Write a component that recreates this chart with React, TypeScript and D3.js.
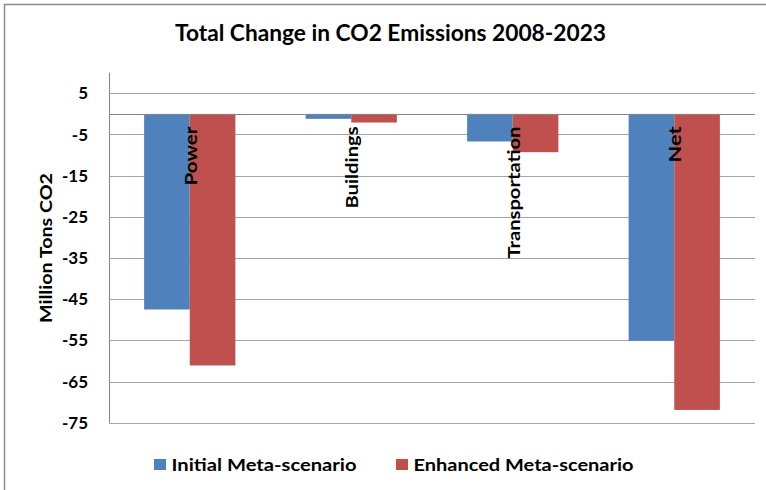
import React from "react";
import * as d3 from "d3";

const categories = ["Power", "Buildings", "Transportation", "Net"];
const seriesNames = ["Initial Meta-scenario", "Enhanced Meta-scenario"];
const initialValues = [-47.5, -1.2, -6.7, -55.1];
const enhancedValues = [-61.1, -2.1, -9.3, -71.9];
const yTicks = [5, -5, -15, -25, -35, -45, -55, -65, -75];
const seriesColors = ["#4F81BD", "#C0504D"];

const W = 766;
const H = 490;
const FONT = "Lato, 'Open Sans', sans-serif";

export default function App() {
  const plotLeft = 109;
  const plotRight = 755;
  const y = d3.scaleLinear().domain([-75, 5]).range([422.7, 93.3]);
  const x0 = d3.scaleBand<string>().domain(categories).range([plotLeft, plotRight]);
  const x1 = d3
    .scaleBand<string>()
    .domain(seriesNames)
    .range([0, x0.bandwidth()])
    .paddingInner(0)
    .paddingOuter(0.77);
  const series = [initialValues, enhancedValues];

  const labelWidths: Record<string, number> = {
    Power: 59,
    Buildings: 82,
    Transportation: 132,
    Net: 36,
  };

  return (
    <svg
      width={W}
      height={H}
      style={{ position: "absolute", left: 0, top: 0, background: "#fff" }}
      fontFamily={FONT}
    >
      <rect x={4.5} y={4.5} width={900} height={700} fill="#fff" stroke="#8c8c8c" strokeWidth={1.5} />

      <text
        x={390.5}
        y={40.7}
        textAnchor="middle"
        fontSize={22}
        fontWeight="bold"
        textLength={431}
        lengthAdjust="spacingAndGlyphs"
        fill="#000"
      >
        Total Change in CO2 Emissions 2008-2023
      </text>

      {/* horizontal gridlines */}
      {yTicks.map((t) => (
        <line
          key={t}
          x1={plotLeft}
          x2={plotRight}
          y1={Math.round(y(t)) + 0.5}
          y2={Math.round(y(t)) + 0.5}
          stroke="#a6a6a6"
          strokeWidth={1}
        />
      ))}

      {/* bars */}
      {categories.map((c, i) => (
        <g key={c}>
          {series.map((vals, s) => {
            const v = vals[i];
            const x = (x0(c) as number) + (x1(seriesNames[s]) as number);
            return (
              <rect
                key={s}
                x={x}
                y={y(Math.max(0, v))}
                width={x1.bandwidth()}
                height={Math.abs(y(v) - y(0))}
                fill={seriesColors[s]}
              />
            );
          })}
        </g>
      ))}

      {/* value axis */}
      <line
        x1={plotLeft + 0.5}
        x2={plotLeft + 0.5}
        y1={y(10)}
        y2={y(-75)}
        stroke="#868686"
        strokeWidth={1}
      />
      {/* category axis at zero */}
      <line
        x1={plotLeft}
        x2={plotRight}
        y1={Math.round(y(0)) + 0.5}
        y2={Math.round(y(0)) + 0.5}
        stroke="#868686"
        strokeWidth={1}
      />

      {yTicks.map((t) => (
        <text
          key={t}
          x={88}
          y={y(t)}
          dy="0.36em"
          textAnchor="end"
          fontSize={17}
          fontWeight="bold"
          fill="#000"
        >
          {t}
        </text>
      ))}

      <text
        transform={`translate(52,248) rotate(-90)`}
        textAnchor="middle"
        fontSize={17}
        fontWeight="bold"
        textLength={150}
        lengthAdjust="spacingAndGlyphs"
        fill="#000"
      >
        Million Tons CO2
      </text>

      {/* category labels */}
      {categories.map((c) => {
        const cx = (x0(c) as number) + x0.bandwidth() / 2;
        return (
          <text
            key={c}
            transform={`translate(${cx + 7},126.5) rotate(-90)`}
            textAnchor="end"
            fontSize={17}
            fontWeight="bold"
            textLength={labelWidths[c]}
            lengthAdjust="spacingAndGlyphs"
            fill="#000"
          >
            {c}
          </text>
        );
      })}

      {/* legend */}
      {seriesNames.map((name, s) => {
        const lx = s === 0 ? 154 : 396;
        const tw = s === 0 ? 185 : 220;
        return (
          <g key={name}>
            <rect x={lx} y={459} width={12} height={11} fill={seriesColors[s]} />
            <text
              x={lx + 17.5}
              y={470.5}
              fontSize={17}
              fontWeight="bold"
              textLength={tw}
              lengthAdjust="spacingAndGlyphs"
              fill="#000"
            >
              {name}
            </text>
          </g>
        );
      })}
    </svg>
  );
}
